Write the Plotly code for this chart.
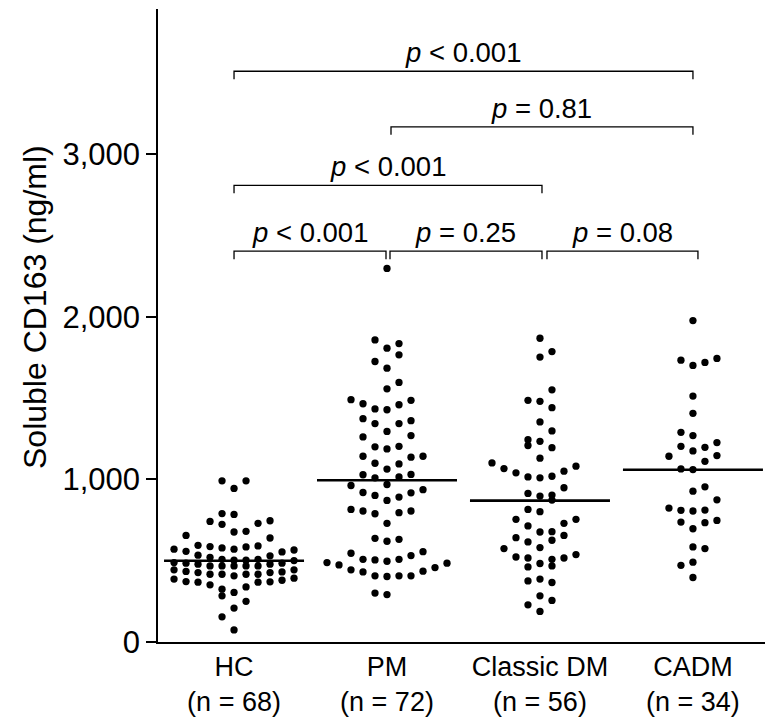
import plotly.graph_objects as go

# ---------------- data ----------------
groups = ["HC", "PM", "Classic DM", "CADM"]
group_n = ["(n = 68)", "(n = 72)", "(n = 56)", "(n = 34)"]

hc = [992, 992, 945, 790, 785, 742, 724, 730, 746, 677, 681, 656, 640,
      566, 554, 595, 587, 579, 571, 571, 585, 591, 558, 530, 521, 534,
      489, 444, 393, 485, 434, 380, 479, 427, 368, 509, 468, 417, 368,
      503, 468, 417, 339, 284, 155, 503, 468, 417, 325, 209, 74,
      501, 468, 417, 352, 250, 509, 468, 427, 370, 305, 431, 372,
      479, 444, 387, 485, 407]

pm = [2299, 1859, 1836, 1808, 1767, 1726, 1685, 1597, 1558, 1487, 1491,
      1460, 1466, 1429, 1434, 1374, 1344, 1296, 1344, 1362, 1270, 1262,
      1204, 1188, 1201, 1143, 1137, 1143, 1096, 1064, 1100, 1029, 1010,
      969, 1016, 1031, 963, 937, 918, 892, 871, 902, 920, 806, 796, 789,
      806, 816, 730, 638, 620, 632, 556, 546, 532, 509, 497, 505, 509,
      489, 474, 444, 431, 407, 403, 407, 407, 436, 458, 485, 301, 292]

classic_dm = [1869, 1787, 1753, 1552, 1481, 1487, 1442, 1354, 1299, 1245,
              1235, 1196, 1209, 1131, 1102, 1082, 1051, 1020, 1010, 1016,
              1041, 1067, 949, 898, 904, 914, 873, 816, 802, 755, 714, 677,
              679, 730, 755, 656, 626, 581, 575, 616, 642, 523, 517, 483,
              468, 509, 517, 462, 538, 387, 366, 376, 284, 229, 256, 188]

cadm = [1978, 1734, 1702, 1720, 1745, 1513, 1407, 1290, 1270, 1204, 1198,
        1227, 1176, 1147, 1143, 1112, 1061, 1065, 955, 928, 875, 824, 810,
        806, 812, 738, 697, 734, 748, 585, 575, 491, 472, 397]

medians = [500, 995, 870, 1060]

y_tick_vals = [0, 1000, 2000, 3000]
y_tick_text = ["0", "1,000", "2,000", "3,000"]

# comparisons: (group a, group b, bracket level, label)
comparisons = [
    (0, 3, 3512, "<i>p</i> &lt; 0.001"),
    (1, 3, 3170, "<i>p</i> = 0.81"),
    (0, 2, 2810, "<i>p</i> &lt; 0.001"),
    (0, 1, 2405, "<i>p</i> &lt; 0.001"),
    (1, 2, 2405, "<i>p</i> = 0.25"),
    (2, 3, 2405, "<i>p</i> = 0.08"),
]

# ---------------- geometry / style ----------------
W, H = 765, 726
L_M, R_M, T_M, B_M = 158, 0, 9, 84
X_RANGE = [-0.497, 3.471]
Y_RANGE = [0, 3895]
plot_w = W - L_M - R_M
plot_h = H - T_M - B_M
px_per_x = plot_w / (X_RANGE[1] - X_RANGE[0])
px_per_y = plot_h / (Y_RANGE[1] - Y_RANGE[0])

FONT = "Liberation Sans, Arial, Helvetica, sans-serif"
DOT = 7.3
COL_PX = 12.0           # horizontal grid step of the scatter columns
ROW_H_PX = 15.1         # height of one row of side-by-side points
MAX_PER_ROW = 11
MEDIAN_HALF_PX = 70
TICK_DOWN_PX = 8
# small horizontal paddings (px) of bracket ends, in the order of `comparisons`
bracket_pad = [(0, 0), (4, 0), (0, 2), (0, -1), (3, 2), (7, 5)]


def scatter_offsets(values):
    """Prism-like column scatter: points grouped in rows, spread center-out."""
    col_w = COL_PX / px_per_x
    row_h = ROW_H_PX / px_per_y
    order = sorted(range(len(values)), key=lambda k: values[k])
    rows, cur = [], []
    for k in order:
        if cur and values[k] - values[cur[0]] < row_h and len(cur) < MAX_PER_ROW:
            cur.append(k)
        else:
            if cur:
                rows.append(cur)
            cur = [k]
    if cur:
        rows.append(cur)
    offs = [0.0] * len(values)
    for ri, row in enumerate(rows):
        sign = -1 if ri % 2 == 0 else 1
        for j, k in enumerate(row):
            m = (j + 1) // 2
            c = 0 if j == 0 else (sign * m if j % 2 == 1 else -sign * m)
            offs[k] = c * col_w
    return offs


fig = go.Figure()

series = [hc, pm, classic_dm, cadm]
for gi, vals in enumerate(series):
    offs = scatter_offsets(vals)
    fig.add_trace(go.Scatter(
        x=[gi + o for o in offs], y=vals, mode="markers",
        marker=dict(size=DOT, color="black", line=dict(width=0)),
        hoverinfo="skip", showlegend=False))
    half = MEDIAN_HALF_PX / px_per_x
    fig.add_trace(go.Scatter(
        x=[gi - half, gi + half], y=[medians[gi], medians[gi]],
        mode="lines", line=dict(color="black", width=2.6),
        hoverinfo="skip", showlegend=False))

annotations = []
tick_down = TICK_DOWN_PX / px_per_y
for (a, b, lvl, lab), (pl, pr) in zip(comparisons, bracket_pad):
    x0 = a + pl / px_per_x
    x1 = b + pr / px_per_x
    fig.add_trace(go.Scatter(
        x=[x0, x0, x1, x1], y=[lvl - tick_down, lvl, lvl, lvl - tick_down],
        mode="lines", line=dict(color="black", width=1.3),
        hoverinfo="skip", showlegend=False))
    annotations.append(dict(
        x=(x0 + x1) / 2, y=lvl, xref="x", yref="y", text=lab,
        showarrow=False, yanchor="bottom", xanchor="center", yshift=1,
        font=dict(family=FONT, size=27.5, color="black")))

annotations.append(dict(
    x=(35 - L_M) / plot_w, y=(H - B_M - 307) / plot_h, xref="paper", yref="paper",
    text="Soluble CD163 (ng/ml)", textangle=-90, showarrow=False,
    xanchor="center", yanchor="middle",
    font=dict(family=FONT, size=32, color="black")))

fig.update_layout(
    width=W, height=H,
    margin=dict(l=L_M, r=R_M, t=T_M, b=B_M, pad=0),
    paper_bgcolor="white", plot_bgcolor="white",
    font=dict(family=FONT, color="black"),
    annotations=annotations,
    xaxis=dict(
        range=X_RANGE, tickvals=list(range(len(groups))),
        ticktext=[f"{g}<br>{n}" for g, n in zip(groups, group_n)],
        showline=True, linecolor="black", linewidth=1.5,
        ticks="", ticklen=0,
        tickfont=dict(family=FONT, size=27, color="black"),
        showgrid=False, zeroline=False, fixedrange=True),
    yaxis=dict(
        range=Y_RANGE, tickvals=y_tick_vals, ticktext=y_tick_text,
        showline=True, linecolor="black", linewidth=1.5,
        ticks="outside", ticklen=10, tickwidth=1.5, tickcolor="black",
        tickfont=dict(family=FONT, size=31, color="black"),
        showgrid=False, zeroline=False, fixedrange=True),
)

fig.write_html("out.html",
               config={"displayModeBar": False},
               post_script="document.body.style.margin='0';"
                           "document.body.style.overflow='hidden';")
